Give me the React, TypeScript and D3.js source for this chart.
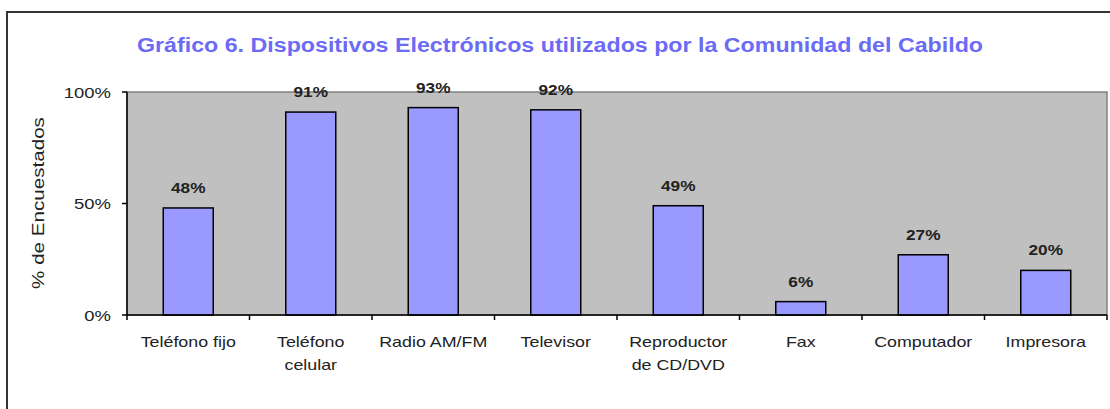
import React from "react";
import * as d3 from "d3";

const categories: string[][] = [
  ["Teléfono fijo"],
  ["Teléfono", "celular"],
  ["Radio AM/FM"],
  ["Televisor"],
  ["Reproductor", "de CD/DVD"],
  ["Fax"],
  ["Computador"],
  ["Impresora"],
];
const values: number[] = [48, 91, 93, 92, 49, 6, 27, 20];
const yTicks: number[] = [0, 50, 100];

const W = 1110;
const H = 409;
const plot = { left: 127, right: 1107, top: 92, bottom: 315 };
const font = "Arial, 'Liberation Sans', sans-serif";
const SX = 1.23;

export default function App() {
  const x = d3
    .scaleBand<number>()
    .domain(d3.range(categories.length))
    .range([plot.left, plot.right])
    .paddingInner(0)
    .paddingOuter(0);
  const y = d3.scaleLinear().domain([0, 100]).range([plot.bottom, plot.top]);
  const step = x.step();
  const bw = 50;

  return (
    <svg
      width={W}
      height={H}
      style={{ position: "absolute", left: 0, top: 0, background: "#fff" }}
    >
      <rect x={7} y={12} width={W + 20} height={H + 20} fill="#fff" stroke="#333" strokeWidth={2} />
      <text
        x={560}
        y={52}
        textAnchor="middle"
        fontFamily={font}
        fontWeight="bold"
        fontSize={20}
        textLength={846}
        lengthAdjust="spacingAndGlyphs"
        fill="#6b6bf5"
      >
        Gráfico 6. Dispositivos Electrónicos utilizados por la Comunidad del Cabildo
      </text>
      <rect
        x={plot.left}
        y={plot.top}
        width={plot.right - plot.left}
        height={plot.bottom - plot.top}
        fill="#c0c0c0"
        stroke="#808080"
        strokeWidth={1.5}
      />
      {values.map((v, i) => {
        const bx = (x(i) as number) + (step - bw) / 2;
        return (
          <g key={i}>
            <rect
              x={bx}
              y={y(v)}
              width={bw}
              height={y(0) - y(v)}
              fill="#9999ff"
              stroke="#000"
              strokeWidth={1.5}
            />
            <text
              transform={`translate(${bx + bw / 2},${y(v) - 15}) scale(${SX},1)`}
              textAnchor="middle"
              fontFamily={font}
              fontWeight="bold"
              fontSize={14}
              fill="#222"
            >
              {v}%
            </text>
          </g>
        );
      })}
      {/* y axis */}
      <line x1={plot.left} x2={plot.left} y1={plot.top} y2={plot.bottom} stroke="#000" strokeWidth={1.5} />
      {yTicks.map((t) => (
        <g key={t}>
          <line x1={plot.left - 5} x2={plot.left} y1={y(t)} y2={y(t)} stroke="#000" strokeWidth={1.5} />
          <text
            transform={`translate(${plot.left - 16},${y(t) + 5.5}) scale(${SX},1)`}
            textAnchor="end"
            fontFamily={font}
            fontSize={15}
            fill="#222"
          >
            {t}%
          </text>
        </g>
      ))}
      {/* x axis */}
      <line x1={plot.left} x2={plot.right} y1={plot.bottom} y2={plot.bottom} stroke="#000" strokeWidth={1.5} />
      {d3.range(categories.length + 1).map((i) => {
        const tx = plot.left + i * step;
        return <line key={i} x1={tx} x2={tx} y1={plot.bottom} y2={plot.bottom + 5} stroke="#000" strokeWidth={1.5} />;
      })}
      {categories.map((lines, i) => (
        <g key={i} transform={`translate(${(x(i) as number) + step / 2},347) scale(${SX},1)`}>
          {lines.map((l, j) => (
            <text
              key={j}
              x={0}
              y={j * 23}
              textAnchor="middle"
              fontFamily={font}
              fontSize={14.5}
              fill="#222"
            >
              {l}
            </text>
          ))}
        </g>
      ))}
      <text
        transform={`translate(44,203) rotate(-90) scale(1.25,1)`}
        textAnchor="middle"
        fontFamily={font}
        fontSize={16.5}
        fill="#222"
      >
        % de Encuestados
      </text>
    </svg>
  );
}
